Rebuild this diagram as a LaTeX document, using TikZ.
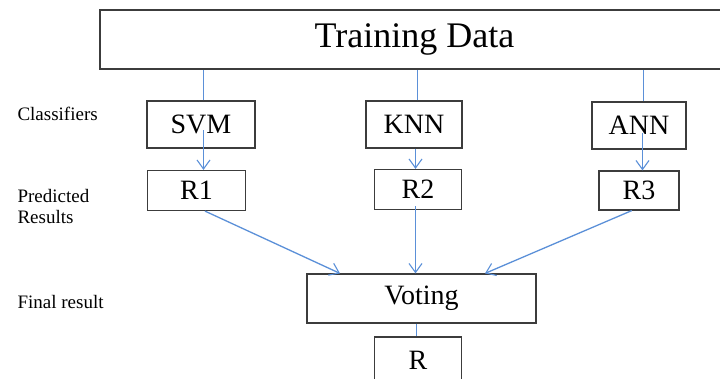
\documentclass[tikz,border=0pt]{standalone}
\usepackage{fontspec}
\setmainfont{Liberation Serif}
\usetikzlibrary{arrows.meta}
\definecolor{linkblue}{HTML}{5B90D8}
\definecolor{framegray}{HTML}{3C3C3C}

\begin{document}
\begin{tikzpicture}[x=1pt,y=-1pt,
    box/.style={draw=framegray, line width=1.2pt, rectangle, inner sep=0pt, font=\fontsize{28}{30}\selectfont},
    link/.style={draw=linkblue, line width=1.3pt},
    arrow/.style={link, -{Straight Barb[length=9pt,width=13pt,line width=1.1pt]}},
    caption/.style={anchor=base west, align=left, font=\fontsize{19}{20.5}\selectfont}]
        \clip (0,0) rectangle (720,378);

        % Kaesten
        \node[box, minimum width=629pt, minimum height=59pt, font=\fontsize{36}{38}\selectfont] (data) at (414.5,39.5) {Training Data};
        \node[box, minimum width=108pt, minimum height=47pt] (svm) at (201,124.5) {SVM};
        \node[box, minimum width=96pt, minimum height=47pt] (knn) at (414,124.5) {KNN};
        \node[box, minimum width=94pt, minimum height=47pt] (ann) at (639,125.5) {ANN};
        \node[box, minimum width=98pt, minimum height=40pt] (r1) at (196.5,190.5) {R1};
        \node[box, minimum width=87pt, minimum height=40pt] (r2) at (418,189.5) {R2};
        \node[box, minimum width=80pt, minimum height=39pt] (r3) at (639,190.5) {R3};
        \node[box, minimum width=229pt, minimum height=49pt] (vote) at (421.5,298.5) {Voting};
        \node[box, minimum width=87pt, minimum height=46pt] (res) at (418,360) {R};

        % Stufen
        \node[caption] (lclass) at (14,120) {Classifiers};
        \node[caption] (lpred) at (14,223) {Predicted\\Results};
        \node[caption] (lfinal) at (14,308) {Final result};

        % Verbindungen
        \draw[link] ([xshift=2.5pt]svm.north) -- ([xshift=2.5pt]svm.north |- data.south);
        \draw[link] ([xshift=3.5pt]knn.north) -- ([xshift=3.5pt]knn.north |- data.south);
        \draw[link] ([xshift=4.5pt]ann.north) -- ([xshift=4.5pt]ann.north |- data.south);
        \draw[arrow] ([shift={(2.5,5.5)}]svm.center) -- ([xshift=2.5pt]svm.center |- r1.north);
        \draw[arrow] ([xshift=1.5pt]knn.south) -- ([xshift=1.5pt]knn.south |- r2.north);
        \draw[arrow] ([shift={(3.5,7.5)}]ann.center) -- ([xshift=3.5pt]ann.center |- r3.north);
        \draw[arrow] ([xshift=8.5pt]r1.south) -- ([xshift=-81.5pt]vote.north);
        \draw[arrow] ([xshift=-2.5pt,yshift=4pt]r2.south) -- ([xshift=-6pt]vote.north);
        \draw[arrow] ([xshift=-7.3pt]r3.south) -- ([xshift=63.5pt]vote.north);
        \draw[link] ([xshift=-5pt]vote.south) -- ([xshift=-1.5pt]res.north);
    \end{tikzpicture}
\end{document}
